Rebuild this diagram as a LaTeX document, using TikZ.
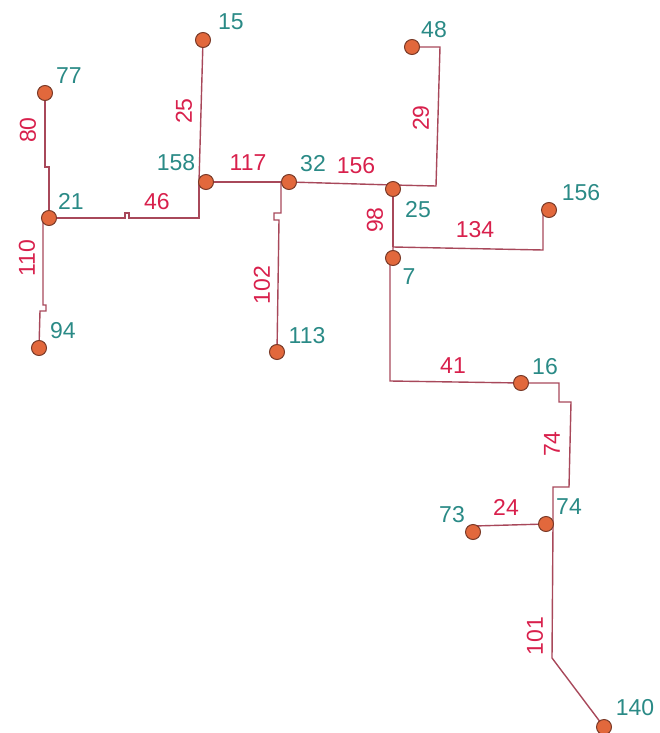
\documentclass[tikz,border=0pt]{standalone}
\usepackage{fontspec}
\setmainfont{Liberation Sans}
\pgfdeclarelayer{bg}
\pgfsetlayers{bg,main}
\definecolor{pipe}{HTML}{A8485A}
\definecolor{nodefill}{HTML}{E2683C}
\definecolor{nodeline}{HTML}{7A3A28}
\definecolor{teal}{HTML}{2A8A86}
\definecolor{crim}{HTML}{D8204C}
\tikzset{
  junc/.style={circle, fill=nodefill, draw=nodeline, line width=1pt, minimum size=15pt, inner sep=0pt},
  nlab/.style={text=teal, font=\fontsize{23}{26}\selectfont, inner sep=0pt},
  elab/.style={text=crim, font=\fontsize{23}{26}\selectfont, inner sep=0pt},
  velab/.style={elab, rotate=90},
  pipeline/.style={draw=pipe, line width=1.4pt, line join=miter}
}
\begin{document}
\begin{tikzpicture}[x=1pt,y=-1pt]
\useasboundingbox (0,0) rectangle (659,733);
% junctions
\node[junc] (n77) at (45,93) {};
\node[junc] (n15) at (203,40) {};
\node[junc] (n21) at (49,218) {};
\node[junc] (n158) at (206,182) {};
\node[junc] (n32) at (289,182) {};
\node[junc] (n94) at (39,348) {};
\node[junc] (n113) at (277,352) {};
\node[junc] (n48) at (412,47) {};
\node[junc] (n25) at (393,189) {};
\node[junc] (n156) at (549,210) {};
\node[junc] (n7) at (393,258) {};
\node[junc] (n16) at (521,383) {};
\node[junc] (n74) at (546,524) {};
\node[junc] (n73) at (473,532) {};
\node[junc] (n140) at (604,727) {};
% pipes
\begin{pgfonlayer}{bg}
\draw[pipeline] (n77.center) -- (45,167) -- (49,167) -- (n21.center);
\draw[pipeline] (n21.center) -- (43,218) -- (43,305) -- (46,305) -- (46,311) -- (40,311) -- (n94.center);
\draw[pipeline] (n21.center) -- (125,218) -- (125,213) -- (129,213) -- (129,218) -- (199,218) -- (199,182);
\draw[pipeline] (n15.center) -- (199,182) -- (n158.center);
\draw[pipeline] (n158.center) -- (n32.center);
\draw[pipeline] (n32.center) -- (281,182) -- (281,213) -- (274,213) -- (274,220) -- (279,220) -- (n113.center);
\draw[pipeline] (n32.center) -- (393,185);
\draw[pipeline] (n25.center) -- (393,185) -- (436,186) -- (440,47) -- (n48.center);
\draw[pipeline] (n25.center) -- (393,247);
\draw[pipeline] (n7.center) -- (393,247) -- (543,250) -- (543,210) -- (n156.center);
\draw[pipeline] (n7.center) -- (390,262) -- (390,381) -- (n16.center);
\draw[pipeline] (n16.center) -- (559,383) -- (559,402) -- (571,402) -- (569,487) -- (553,487) -- (553,524);
\draw[pipeline] (n73.center) -- (474,526) -- (n74.center);
\draw[pipeline] (n74.center) -- (553,524) -- (552,658) -- (n140.center);
\end{pgfonlayer}
% node labels
\node[nlab] (t15) at (231,22) {15};
\node[nlab] (t77) at (69,76) {77};
\node[nlab] (t158) at (176,163) {158};
\node[nlab] (t32) at (313,164) {32};
\node[nlab] (t21) at (71,201) {21};
\node[nlab] (t94) at (63,331) {94};
\node[nlab] (t113) at (307,336) {113};
\node[nlab] (t48) at (434,30) {48};
\node[nlab] (t25) at (418,210) {25};
\node[nlab] (t156) at (581,193) {156};
\node[nlab] (t7) at (409,277) {7};
\node[nlab] (t16) at (545,367) {16};
\node[nlab] (t74) at (569,507) {74};
\node[nlab] (t73) at (452,515) {73};
\node[nlab] (t140) at (635,708) {140};
% edge labels
\node[velab] (e80) at (28,130) {80};
\node[velab] (e25) at (184,111) {25};
\node[elab] (e117) at (248,163) {117};
\node[elab] (e46) at (157,202) {46};
\node[velab] (e110) at (27,258) {110};
\node[velab] (e102) at (262,285) {102};
\node[elab] (e156) at (356,166) {156};
\node[velab] (e29) at (421,118) {29};
\node[velab] (e98) at (375,220) {98};
\node[elab] (e134) at (475,230) {134};
\node[elab] (e41) at (453,366) {41};
\node[velab] (e74) at (552,444) {74};
\node[elab] (e24) at (506,507) {24};
\node[velab] (e101) at (535,636) {101};
\end{tikzpicture}
\end{document}
